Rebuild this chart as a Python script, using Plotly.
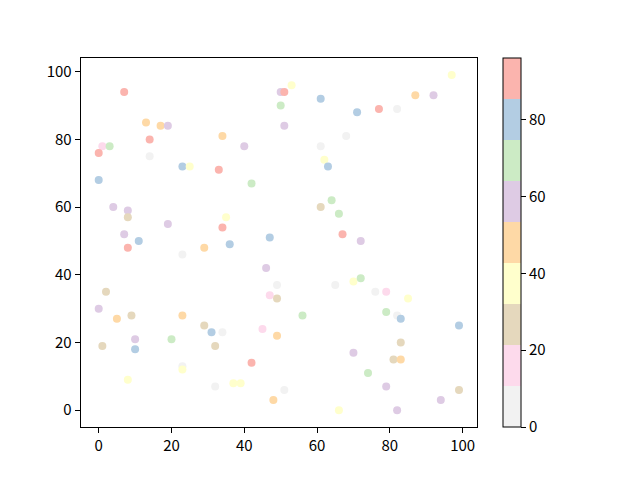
import plotly.graph_objects as go

# scatter points: x, y and colour value
x_vals = [7, 50, 51, 53, 61, 71, 77, 82, 87, 92, 97,
          13, 17, 19, 14, 34, 50, 51, 1, 3, 0, 14,
          23, 25, 33, 40, 0, 42, 61, 68, 62, 63,
          4, 8, 8, 7, 8, 11, 19, 34, 35, 29, 36, 23, 47,
          61, 64, 66, 67, 72, 46, 49, 47, 49, 65, 70, 72,
          76, 79, 85, 79, 82, 83, 99, 2, 0, 5, 9, 23, 29,
          31, 34, 10, 1, 10, 20, 32, 45, 49, 56, 42, 23, 23,
          8, 37, 39, 32, 48, 51, 66, 70, 74, 81, 83, 83, 79,
          82, 94, 99]
y_vals = [94, 94, 94, 96, 92, 88, 89, 89, 93, 93, 99,
          85, 84, 84, 80, 81, 90, 84, 78, 78, 76, 75,
          72, 72, 71, 78, 68, 67, 78, 81, 74, 72,
          60, 59, 57, 52, 48, 50, 55, 54, 57, 48, 49, 46, 51,
          60, 62, 58, 52, 50, 42, 37, 34, 33, 37, 38, 39,
          35, 35, 33, 29, 28, 27, 25, 35, 30, 27, 28, 28, 25,
          23, 23, 21, 19, 18, 21, 19, 24, 22, 28, 14, 13, 12,
          9, 8, 8, 7, 3, 6, 0, 17, 11, 15, 15, 20, 7,
          0, 3, 6]
c_vals = [91, 58, 90, 37, 80, 78, 92, 4, 49, 60, 38,
          47, 50, 57, 89, 46, 70, 61, 15, 68, 93, 6,
          81, 36, 88, 59, 79, 67, 3, 5, 35, 82,
          56, 58, 27, 62, 87, 77, 55, 94, 39, 48, 83, 8, 76,
          28, 71, 65, 96, 55, 61, 2, 14, 25, 7, 40, 72,
          3, 17, 34, 69, 1, 80, 79, 24, 57, 45, 26, 51, 29,
          84, 9, 63, 30, 76, 66, 23, 18, 44, 73, 86, 5, 33,
          38, 41, 36, 0, 50, 4, 37, 60, 70, 27, 52, 25, 59,
          62, 56, 30]

cb_ticks = [0, 20, 40, 60, 80]

# Pastel1 reversed, as discrete bands
pastel1_r = ["#f2f2f2", "#fddaec", "#e5d8bd", "#ffffcc", "#fed9a6",
             "#decbe4", "#ccebc5", "#b3cde3", "#fbb4ae"]
n = len(pastel1_r)
colorscale = []
for i, col in enumerate(pastel1_r):
    colorscale.append([i / n, col])
    colorscale.append([(i + 1) / n, col])

# page body has an 8px margin, so the figure is shifted by that much
OFF = 8
W, H = 640 - OFF, 480 - OFF
ax_left, ax_right = 80.7 - OFF, 477 - OFF
ax_top, ax_bottom = 58.3 - OFF, 427 - OFF
cb_left = 502.7 - OFF
font = dict(family="Noto Sans CJK SC, DejaVu Sans, sans-serif", size=15, color="black")

fig = go.Figure(go.Scatter(
    x=x_vals, y=y_vals, mode="markers",
    marker=dict(
        size=8, color=c_vals, colorscale=colorscale, cmin=0, cmax=max(c_vals),
        line=dict(width=0),
        colorbar=dict(
            x=cb_left / W, xanchor="left", xref="paper",
            y=1 - ax_bottom / H, yanchor="bottom",
            len=ax_bottom - ax_top, lenmode="pixels",
            thickness=17.6, thicknessmode="pixels",
            outlinewidth=1, outlinecolor="black",
            tickvals=cb_ticks, ticks="outside", ticklen=5, tickwidth=1,
            tickcolor="black", tickfont=font, xpad=0, ypad=0,
        ),
    ),
    showlegend=False,
))

axis_common = dict(
    showgrid=False, zeroline=False, showline=True, linecolor="black", linewidth=1,
    mirror=True, ticks="outside", ticklen=5, tickwidth=1, tickcolor="black",
    tickfont=font, tickvals=[0, 20, 40, 60, 80, 100],
)

fig.update_layout(
    width=W, height=H,
    margin=dict(l=0, r=0, t=0, b=0),
    paper_bgcolor="white", plot_bgcolor="white",
    font=font,
    xaxis=dict(domain=[ax_left / W, ax_right / W], range=[-4.95, 103.95], **axis_common),
    yaxis=dict(domain=[1 - ax_bottom / H, 1 - ax_top / H], range=[-4.95, 103.95], **axis_common),
)

fig.write_html("out.html")
